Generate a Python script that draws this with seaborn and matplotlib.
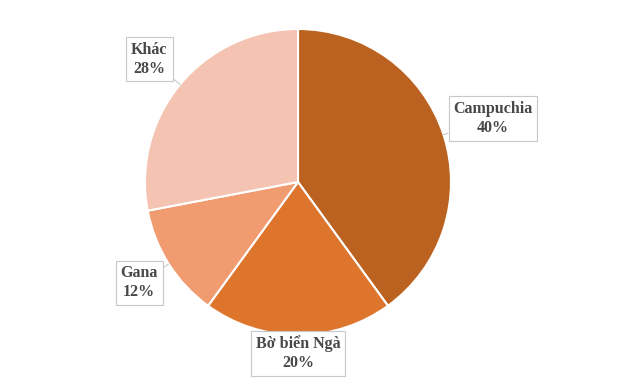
import numpy as np
import matplotlib
matplotlib.use("Agg")
import matplotlib.pyplot as plt
import seaborn as sns

# data
countries = ["Campuchia", "Bờ biển Ngà", "Gana", "Khác"]
shares = [40, 20, 12, 28]
colors = ["#BB6221", "#DE752D", "#F09B70", "#F4C3B1"]

# label distance from centre (in pie radii) for each callout
label_dist = [1.34, 1.12, 1.23, 1.26]

sns.set_theme(style="white")
plt.rcParams["font.family"] = ["Liberation Serif", "DejaVu Serif"]

fig = plt.figure(figsize=(6.19, 3.86), dpi=100)
cx, cy, r = 298, 182, 153
ax = fig.add_axes([(cx - r) / 619, (386 - cy - r) / 386, 2 * r / 619, 2 * r / 386])

wedges, _ = ax.pie(shares, colors=colors, startangle=90, counterclock=False,
                   wedgeprops=dict(edgecolor="white", linewidth=1.5))
ax.set_xlim(-1, 1)
ax.set_ylim(-1, 1)
ax.set_aspect("equal")
ax.axis("off")

for w, name, val, d in zip(wedges, countries, shares, label_dist):
    ang = np.deg2rad((w.theta1 + w.theta2) / 2)
    tip = (np.cos(ang), np.sin(ang))
    pos = (d * np.cos(ang), d * np.sin(ang))
    ax.annotate(f"{name}\n{val}%", xy=tip, xytext=pos,
                ha="center", va="center", multialignment="center",
                fontsize=11.5, fontweight="bold", family=["Liberation Serif", "DejaVu Serif"],
                color="#484848", linespacing=1.25, annotation_clip=False,
                bbox=dict(boxstyle="square,pad=0.3", fc="white", ec="#C8C8C8", lw=0.8),
                arrowprops=dict(arrowstyle="-", color="#C8C8C8", lw=0.8,
                                shrinkA=0, shrinkB=0))

fig.savefig("out.png", dpi=100)
